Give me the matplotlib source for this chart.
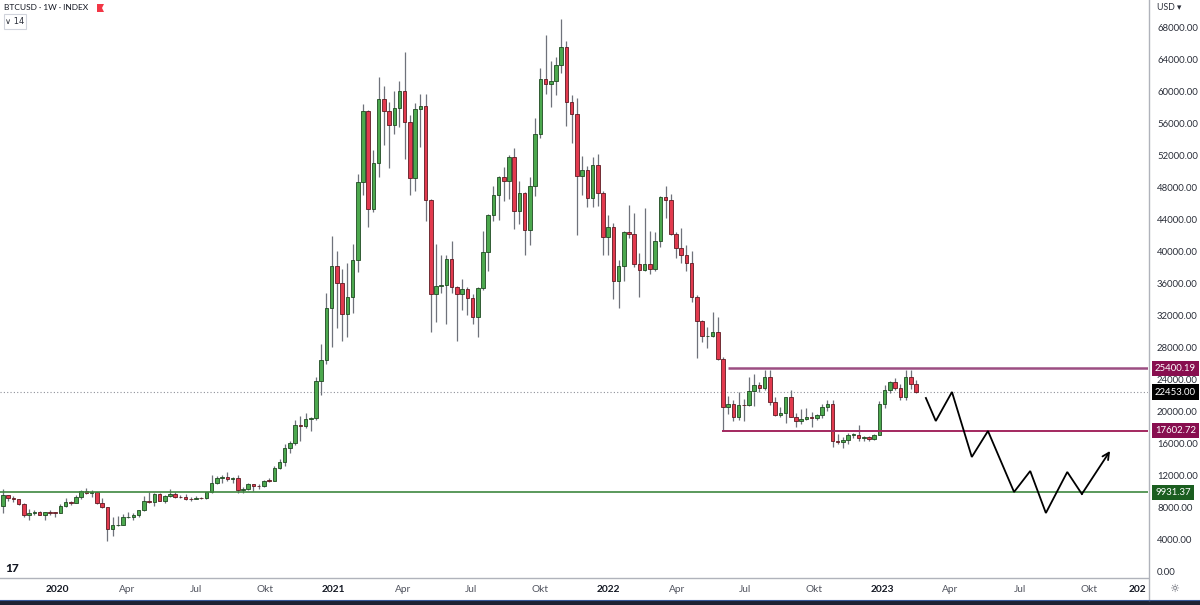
import matplotlib
matplotlib.use('Agg')
import matplotlib.pyplot as plt
import matplotlib.transforms as mtransforms
from matplotlib.patches import Rectangle, Polygon
import numpy as np

# ---------------- data (weekly BTCUSD, from 2019-10-21 to 2023-02-27) ----------------
opens = [8225, 9550, 9200, 9050, 8500, 7050, 7400, 7500, 7100, 7500, 7400, 7360, 8190, 8700, 8600, 9350,
         10150, 9900, 9950, 8550, 8050, 5400, 5850, 5900, 6800, 6900, 7100, 7700, 8900, 8750, 9700, 8900,
         9450, 9750, 9350, 9300, 9100, 9050, 9250, 9200, 9950, 11100, 11700, 11900, 11650, 11700, 10250, 10330,
         10950, 10750, 10670, 11400, 11370, 13030, 13750, 15500, 16100, 18400, 18200, 19100, 19250, 23800, 26400, 33000,
         38200, 36000, 32250, 34300, 38900, 48600, 57500, 45250, 51000, 59000, 57500, 55800, 57900, 60000, 56200, 49100,
         57800, 58200, 46400, 34700, 35700, 35800, 39100, 35600, 34700, 35300, 34200, 31800, 35400, 39900, 44600, 47000,
         49300, 48800, 51800, 45100, 47300, 42700, 48200, 54700, 61500, 60900, 61300, 63300, 65500, 58700, 57200, 49400,
         50100, 46700, 50800, 47300, 41800, 43100, 36300, 38200, 42400, 42200, 38400, 37700, 38400, 37800, 41300, 46800,
         46400, 42200, 40400, 39500, 38500, 34300, 31300, 29400, 29500, 29900, 26600, 20550, 21000, 19300, 20850, 20800,
         22600, 23300, 22950, 24300, 21150, 19550, 19800, 21800, 19400, 18800, 19050, 19400, 19260, 19570, 20630, 20900,
         16330, 16280, 16450, 17100, 17110, 16750, 16850, 16550, 17100, 20900, 22700, 23740, 22940, 21800, 24300, 23500]
highs = [10350, 9580, 9500, 9100, 8550, 7850, 7750, 7650, 7500, 7700, 7500, 8450, 9200, 8800, 9600, 10200,
         10500, 10250, 9960, 9190, 8150, 6900, 6950, 7200, 7450, 7300, 7750, 9450, 10000, 9900, 9850, 9600,
         10400, 9950, 9600, 9700, 9350, 9450, 9350, 9950, 12100, 12000, 12100, 12450, 11800, 12050, 10600, 11150,
         10950, 10950, 11500, 11700, 13200, 14100, 15950, 16350, 18950, 19500, 19900, 19400, 24300, 28400, 34800, 41950,
         40100, 37850, 38500, 40950, 49700, 58350, 57600, 52600, 61800, 60600, 58600, 60000, 61300, 64900, 57000, 58500,
         59600, 59600, 46600, 40900, 39500, 39500, 41300, 35700, 36600, 35500, 34700, 35500, 42600, 44700, 48100, 49400,
         50500, 52000, 52900, 48800, 47400, 49300, 56600, 62900, 67000, 63700, 64300, 69000, 66300, 59500, 59100, 51900,
         50600, 51800, 52100, 47600, 44500, 43500, 38900, 42600, 45800, 44800, 39800, 45400, 42600, 42400, 46900, 48200,
         47200, 42400, 42900, 40800, 40000, 34500, 31400, 30600, 32400, 31800, 26800, 21900, 21500, 22500, 21600, 24300,
         24700, 23650, 25200, 25200, 21850, 20600, 21850, 22700, 19800, 20350, 20450, 19950, 19700, 21000, 21450, 21450,
         17200, 16800, 17300, 17400, 18400, 17000, 16950, 17200, 21300, 23350, 23800, 24250, 23450, 25250, 25250, 24000]
lows = [7300, 8900, 8700, 8350, 6800, 6500, 7150, 7050, 6450, 7150, 6850, 7350, 8100, 8300, 8550, 9150,
        9700, 9300, 8450, 8000, 3850, 4450, 5700, 5850, 6750, 6450, 6800, 7650, 8550, 8200, 8800, 8650,
        9300, 9200, 9200, 8950, 8900, 9050, 9100, 9150, 9900, 10950, 11150, 11400, 11150, 9850, 9850, 10250,
        10150, 10400, 10550, 11250, 11350, 12800, 13250, 14850, 15800, 16300, 18000, 17600, 19000, 22100, 25900, 28100,
        30400, 28800, 29300, 32300, 37400, 47000, 43000, 44950, 49300, 53300, 50400, 54700, 55500, 51500, 47000, 47500,
        53000, 43800, 30000, 31200, 34800, 31000, 34800, 28800, 32700, 32100, 31000, 29300, 35200, 37500, 43800, 43900,
        46300, 46500, 42800, 43400, 39600, 40800, 46900, 54100, 59600, 58000, 59500, 62300, 55700, 53500, 42000, 47100,
        45600, 45600, 45700, 39600, 39500, 34000, 33000, 36300, 41700, 38000, 34300, 37500, 37200, 37600, 40500, 44200,
        42100, 39200, 38600, 37600, 33700, 26700, 28700, 28000, 29300, 26500, 17600, 19700, 18800, 19000, 18900, 20700,
        20700, 22400, 22700, 20800, 19500, 19400, 18600, 19300, 18150, 18500, 18950, 18150, 18950, 19200, 20050, 15600,
        16000, 15500, 16000, 16700, 16300, 16300, 16400, 16500, 17050, 20400, 22300, 22750, 21400, 21400, 22800, 22300]
closes = [9550, 9200, 9050, 8500, 7050, 7400, 7500, 7100, 7500, 7400, 7360, 8190, 8700, 8600, 9350, 10150,
          9900, 9950, 8550, 8050, 5400, 5850, 5900, 6800, 6900, 7100, 7700, 8900, 8750, 9700, 8900, 9450,
          9750, 9350, 9300, 9100, 9050, 9250, 9200, 9950, 11100, 11700, 11900, 11650, 11700, 10250, 10330, 10950,
          10750, 10670, 11400, 11370, 13030, 13750, 15500, 16100, 18400, 18200, 19100, 19250, 23800, 26400, 33000, 38200,
          36000, 32250, 34300, 38900, 48600, 57500, 45250, 51000, 59000, 57500, 55800, 57900, 60000, 56200, 49100, 57800,
          58200, 46400, 34700, 35700, 35800, 39100, 35600, 34700, 35300, 34200, 31800, 35400, 39900, 44600, 47000, 49300,
          48800, 51800, 45100, 47300, 42700, 48200, 54700, 61500, 60900, 61300, 63300, 65500, 58700, 57200, 49400, 50100,
          46700, 50800, 47300, 41800, 43100, 36300, 38200, 42400, 42200, 38400, 37700, 38400, 37800, 41300, 46800, 46400,
          42200, 40400, 39500, 38500, 34300, 31300, 29400, 29500, 29900, 26600, 20550, 21000, 19300, 20850, 20800, 22600,
          23300, 22950, 24300, 21150, 19550, 19800, 21800, 19400, 18800, 19050, 19400, 19260, 19570, 20630, 20900, 16330,
          16280, 16450, 17100, 17110, 16750, 16850, 16550, 17100, 20900, 22700, 23740, 22940, 21800, 24300, 23500, 22453]

x_labels = ['2020', 'Apr', 'Jul', 'Okt', '2021', 'Apr', 'Jul', 'Okt', '2022', 'Apr', 'Jul', 'Okt',
            '2023', 'Apr', 'Jul', 'Okt']
x_label_weeks = [10.35, 23.8, 37.0, 50.2, 63.3, 76.7, 89.7, 102.9, 116.0, 129.2, 142.2, 155.5,
                 168.5, 181.5, 195.0, 208.2]

resistance = 25400.19
support = 17602.72
long_support = 9931.37
last_price = 22453.00
resistance_start_week = 139
support_start_week = 137.8

proj_weeks = [176.9, 178.8, 181.9, 185.7, 188.8, 193.8, 196.9, 199.9, 204.0, 206.8, 212.2]
proj_prices = [21710, 18840, 22460, 14350, 17590, 9980, 12600, 7360, 12480, 9730, 15100]

y_ticks = list(range(0, 68001, 4000))

# ---------------- figure ----------------
W, H = 1200, 605
fig = plt.figure(figsize=(12, 6.05), dpi=100)
fig.patch.set_facecolor('white')


def fx(px):
    return px / W


def fy(py):
    return 1 - py / H


plt.rcParams['font.family'] = ['Lato', 'DejaVu Sans']

ax = fig.add_axes([0, fy(578), fx(1148), 578 / H])
ax.set_facecolor('white')

o = np.array(opens, float)
h = np.array(highs, float)
l = np.array(lows, float)
c = np.array(closes, float)
idx = np.arange(len(c))
up = c >= o

ax.vlines(idx, l, h, color='#6F727B', lw=0.9, zorder=2)
body_lo = np.minimum(o, c)
body_h = np.maximum(np.abs(c - o), 70)
ax.bar(idx[up], body_h[up], bottom=body_lo[up], width=0.68, color='#4CA84E',
       edgecolor='#1F4A22', lw=0.6, zorder=3)
ax.bar(idx[~up], body_h[~up], bottom=body_lo[~up], width=0.68, color='#E23A4E',
       edgecolor='#5E1A22', lw=0.6, zorder=3)

xmin, xmax = -3 / 5.217, 1145 / 5.217
ax.set_xlim(xmin, xmax)
ax.set_ylim(-750, 71370)

# levels
ax.axhline(last_price, color='#8E9099', lw=0.8, ls=(0, (1, 2)), zorder=1)
ax.hlines(resistance, resistance_start_week, xmax, color='#9C4E82', lw=1.8, zorder=4)
ax.hlines(support, support_start_week, xmax, color='#A3285F', lw=1.4, zorder=4)
ax.axhline(long_support, color='#3E873F', lw=1.2, zorder=4)

# projection path
ax.plot(proj_weeks[:-1], proj_prices[:-1], color='black', lw=1.3, zorder=5,
        solid_joinstyle='miter')
ax.annotate('', xy=(proj_weeks[-1], proj_prices[-1]), xytext=(proj_weeks[-2], proj_prices[-2]),
            arrowprops=dict(arrowstyle='->', color='black', lw=1.3, mutation_scale=12,
                            shrinkA=0, shrinkB=0), zorder=5)

# axes styling
for s in ['top', 'left', 'right']:
    ax.spines[s].set_visible(False)
ax.spines['bottom'].set_color('#B0B3BB')
ax.spines['bottom'].set_linewidth(1.0)

ax.yaxis.tick_right()
ax.set_yticks(y_ticks)
ax.set_yticklabels([f'{v:.2f}' for v in y_ticks])
ax.tick_params(axis='y', length=0, pad=6.5, labelsize=6.9, labelcolor='#2A2E39')

ax.set_xticks(x_label_weeks)
ax.set_xticklabels(x_labels)
ax.tick_params(axis='x', length=0, pad=5, labelsize=7.3, labelcolor='#50535E')
for t in ax.get_xticklabels():
    if t.get_text().isdigit():
        t.set_fontweight('bold')
        t.set_color('#131722')

# price label boxes on the axis
blend = mtransforms.blended_transform_factory(ax.transAxes, ax.transData)
for val, col in [(resistance, '#880E4F'), (last_price, '#000000'),
                 (support, '#880E4F'), (long_support, '#1B5E20')]:
    ax.text(1.0 + 7 / 1148, val, f'{val:.2f}', transform=blend, ha='left', va='center',
            fontsize=6.9, color='white', zorder=10, clip_on=False,
            bbox=dict(boxstyle='square,pad=0.32', fc=col, ec='none'))

# price-scale separator
fig.add_artist(plt.Line2D([fx(1148.5), fx(1148.5)], [fy(0), fy(600)], color='#B0B3BB', lw=1.0))

# header
fig.text(fx(1157), fy(8), 'USD ▾', fontsize=6.3, color='#2A2E39', va='center', ha='left')
fig.text(fx(4), fy(8), 'BTCUSD · 1W · INDEX', fontsize=6.0, color='#131722', va='center', ha='left')
fig.add_artist(Polygon([[fx(97), fy(4)], [fx(104), fy(4)], [fx(102), fy(8)], [fx(104), fy(12)],
                        [fx(97), fy(12)]], closed=True, fc='#F23645', ec='none',
                       transform=fig.transFigure))
fig.add_artist(Rectangle((fx(4), fy(29)), fx(22), 15 / H, fc='white', ec='#D1D4DC', lw=0.8,
                         transform=fig.transFigure))
fig.text(fx(15), fy(21.5), '∨ 14', fontsize=6.0, color='#2A2E39', va='center', ha='center',
         family=['DejaVu Sans'])

# bottom bits
fig.text(fx(5), fy(569), '17', fontsize=8.5, fontweight='black', color='#131722', va='center', ha='left')
fig.text(fx(1146), fy(589), '202', fontsize=7.3, fontweight='bold', color='#131722', va='center', ha='right')
fig.text(fx(1174), fy(589), '☼', fontsize=8, color='#50535E', va='center', ha='center',
         family=['DejaVu Sans'])
fig.add_artist(Rectangle((0, 0), 1, 5 / H, fc='#1E2232', ec='none', transform=fig.transFigure))
fig.add_artist(plt.Line2D([0, 1], [fy(600), fy(600)], color='#3A5A9A', lw=0.8))

fig.savefig('out.png', dpi=100, facecolor='white')
